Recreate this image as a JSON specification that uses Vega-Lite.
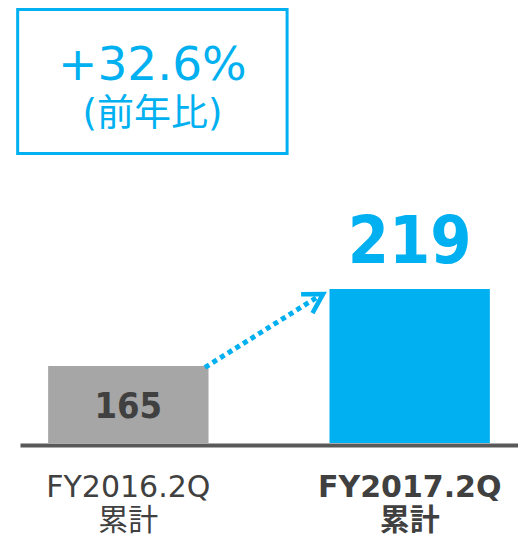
{
  "$schema": "https://vega.github.io/schema/vega-lite/v6.json",
  "width": 498,
  "height": 435,
  "autosize": "none",
  "padding": {"left": 20, "top": 8, "right": 0, "bottom": 101},
  "background": "white",
  "config": {"view": {"stroke": null}, "font": "DejaVu Sans, Noto Sans CJK JP"},
  "datasets": {
    "bars": [
      {"period": "FY2016.2Q\n累計", "value": 165},
      {"period": "FY2017.2Q\n累計", "value": 219}
    ],
    "growth": [{"pct": "+32.6%", "note": "(前年比)"}]
  },
  "layer": [
    {
      "data": {"name": "bars"},
      "mark": {"type": "bar"},
      "encoding": {
        "x": {
          "field": "period", "type": "nominal", "title": null, "sort": null,
          "scale": {"domain": ["FY2016.2Q\n累計", "FY2017.2Q\n累計"], "paddingInner": 0.43, "paddingOuter": 0.1},
          "axis": {
            "domainColor": "#595959", "domainWidth": 4, "offset": 2, "ticks": false, "grid": false,
            "labelAngle": 0, "labelFont": "DejaVu Sans, Noto Sans CJK JP", "labelFontSize": 30,
            "labelColor": "#404040", "labelLineHeight": 33, "labelPadding": 27, "labelLimit": 400,
            "labelExpr": "split(datum.label, '\\n')",
            "labelFontWeight": {"condition": {"test": "indexof(datum.value, '2017') >= 0", "value": "bold"}, "value": "normal"}
          }
        },
        "y": {"field": "value", "type": "quantitative", "scale": {"domain": [111, 416], "zero": false, "nice": false}, "axis": null},
        "y2": {"datum": 111},
        "color": {"field": "period", "type": "nominal", "scale": {"range": ["#A6A6A6", "#00B0F0"]}, "legend": null}
      }
    },
    {
      "data": {"name": "bars"},
      "transform": [{"filter": {"field": "period", "equal": "FY2016.2Q\n累計"}}],
      "mark": {"type": "text", "font": "DejaVu Sans Condensed, DejaVu Sans", "fontWeight": "bold", "fontSize": 36, "color": "#404040", "baseline": "alphabetic", "dy": 52},
      "encoding": {
        "x": {"field": "period", "type": "nominal", "title": null},
        "y": {"field": "value", "type": "quantitative"},
        "text": {"field": "value", "type": "quantitative"}
      }
    },
    {
      "data": {"name": "bars"},
      "transform": [{"filter": {"field": "period", "equal": "FY2017.2Q\n累計"}}],
      "mark": {"type": "text", "font": "DejaVu Sans Condensed, DejaVu Sans", "fontWeight": "bold", "fontSize": 66, "color": "#00B0F0", "baseline": "alphabetic", "dy": -26},
      "encoding": {
        "x": {"field": "period", "type": "nominal", "title": null},
        "y": {"field": "value", "type": "quantitative"},
        "text": {"field": "value", "type": "quantitative"}
      }
    },
    {
      "data": {"name": "growth"},
      "mark": {"type": "rect", "fillOpacity": 0, "stroke": "#00B0F0", "strokeWidth": 3},
      "encoding": {
        "x": {"datum": "FY2016.2Q\n累計", "type": "nominal", "bandPosition": -0.19, "title": null},
        "x2": {"datum": "FY2016.2Q\n累計", "bandPosition": 1.49},
        "y": {"datum": 415, "type": "quantitative"},
        "y2": {"datum": 314}
      }
    },
    {
      "data": {"name": "growth"},
      "mark": {"type": "text", "fontSize": 47, "color": "#00B0F0", "baseline": "alphabetic", "align": "center"},
      "encoding": {
        "x": {"datum": "FY2016.2Q\n累計", "type": "nominal", "bandPosition": 0.65, "title": null},
        "y": {"datum": 365.5, "type": "quantitative"},
        "text": {"field": "pct", "type": "nominal"}
      }
    },
    {
      "data": {"name": "growth"},
      "mark": {"type": "text", "fontSize": 37, "color": "#00B0F0", "baseline": "alphabetic", "align": "center"},
      "encoding": {
        "x": {"datum": "FY2016.2Q\n累計", "type": "nominal", "bandPosition": 0.65, "title": null},
        "y": {"datum": 333.5, "type": "quantitative"},
        "text": {"field": "note", "type": "nominal"}
      }
    },
    {
      "data": {"name": "growth"},
      "mark": {"type": "rule", "color": "#00B0F0", "strokeWidth": 5, "strokeDash": [5, 4]},
      "encoding": {
        "x": {"datum": "FY2016.2Q\n累計", "type": "nominal", "bandPosition": 0.978, "title": null},
        "x2": {"datum": "FY2017.2Q\n累計", "bandPosition": -0.084},
        "y": {"datum": 164, "type": "quantitative"},
        "y2": {"datum": 212.7}
      }
    },
    {
      "data": {"name": "growth"},
      "mark": {"type": "point", "shape": "M-1,-0.58L0,0L-1,0.58", "filled": false, "stroke": "#00B0F0", "strokeWidth": 4.5, "size": 1444, "angle": 329, "opacity": 1},
      "encoding": {
        "x": {"datum": "FY2017.2Q\n累計", "type": "nominal", "bandPosition": -0.04, "title": null},
        "y": {"datum": 215.5, "type": "quantitative"}
      }
    }
  ]
}
